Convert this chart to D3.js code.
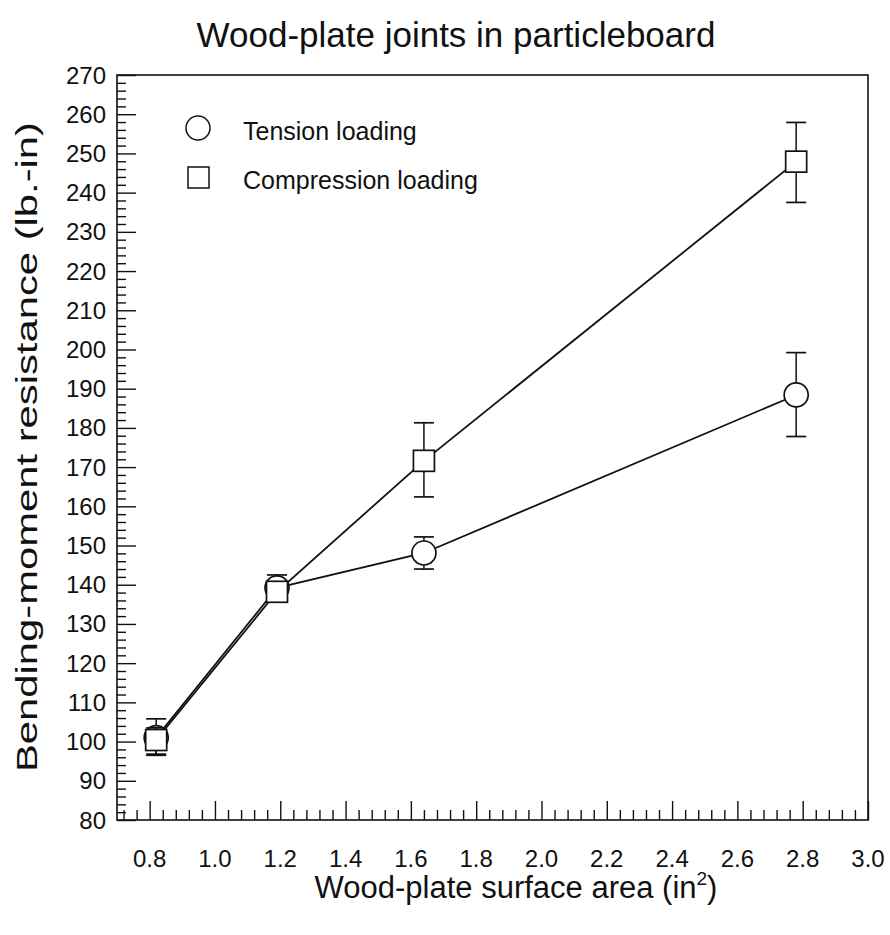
<!DOCTYPE html>
<html>
<head>
<meta charset="utf-8">
<script src="https://cdn.jsdelivr.net/npm/d3@7"></script>
<style>
  body { margin: 0; background: #fff; }
  svg text { font-family: "Liberation Sans", Arial, sans-serif; fill: #111; }
</style>
</head>
<body>
<svg id="chart" width="890" height="935"></svg>
<script>
// data
const area = [0.82, 1.19, 1.64, 2.78];
const tension = [101, 139.2, 148.1, 188.4];
const tensionLo = [96.5, 136, 144.0, 177.8];
const tensionHi = [105.8, 142.5, 152.2, 199.2];
const compression = [100.4, 138.2, 171.6, 247.9];
const compressionLo = [96.8, 136.2, 162.4, 237.5];
const compressionHi = [103.5, 140.2, 181.3, 257.9];
const xTicks = [0.8, 1.0, 1.2, 1.4, 1.6, 1.8, 2.0, 2.2, 2.4, 2.6, 2.8, 3.0];
const yTicks = d3.range(80, 271, 10);

const svg = d3.select('#chart');
const mLeft = 117, mRight = 868, mTop = 75, mBottom = 820;

const x = d3.scaleLinear().domain([0.7, 3.0]).range([mLeft, mRight]);
const y = d3.scaleLinear().domain([80, 270]).range([mBottom, mTop]);

// frame
svg.append('rect')
	.attr('x', mLeft).attr('y', mTop)
	.attr('width', mRight - mLeft).attr('height', mBottom - mTop)
	.attr('fill', 'none').attr('stroke', '#111').attr('stroke-width', 1.6);

// ticks pointing inward
const xMinor = d3.range(0.72, 3.0, 0.04).filter(v => Math.abs(v * 5 - Math.round(v * 5)) > 0.01);
const yMinor = d3.range(82, 270, 2).filter(v => v % 10 !== 0);

const xAxis = svg.append('g').attr('transform', `translate(0,${mBottom})`);
xAxis.append('g')
	.call(d3.axisTop(x).tickValues(xMinor).tickSize(10).tickFormat(''))
	.call(g => g.select('.domain').remove());
xAxis.append('g')
	.call(d3.axisTop(x).tickValues(xTicks).tickSize(19).tickFormat(''))
	.call(g => g.select('.domain').remove());
xAxis.selectAll('line').attr('stroke', '#111').attr('stroke-width', 1.4);
svg.append('g').selectAll('text')
	.data(xTicks).join('text')
	.attr('x', d => x(d)).attr('y', 867)
	.attr('text-anchor', 'middle')
	.attr('font-size', 24)
	.text(d => d3.format('.1f')(d));

const yAxis = svg.append('g').attr('transform', `translate(${mLeft},0)`);
yAxis.append('g')
	.call(d3.axisRight(y).tickValues(yMinor).tickSize(9).tickFormat(''))
	.call(g => g.select('.domain').remove());
yAxis.append('g')
	.call(d3.axisRight(y).tickValues(yTicks).tickSize(19).tickFormat(''))
	.call(g => g.select('.domain').remove());
yAxis.selectAll('line').attr('stroke', '#111').attr('stroke-width', 1.4);
svg.append('g').selectAll('text')
	.data(yTicks).join('text')
	.attr('x', 106).attr('y', d => y(d) + 8.5)
	.attr('text-anchor', 'end')
	.attr('font-size', 24)
	.text(d => d);

// titles
svg.append('text')
	.attr('x', 456).attr('y', 47)
	.attr('text-anchor', 'middle')
	.attr('font-size', 35)
	.text('Wood-plate joints in particleboard');

const xl = svg.append('text')
	.attr('x', 516).attr('y', 898)
	.attr('text-anchor', 'middle')
	.attr('font-size', 31);
xl.append('tspan').text('Wood-plate surface area (in');
xl.append('tspan').attr('font-size', 19).attr('dy', -13).text('2');
xl.append('tspan').attr('dy', 13).text(')');

svg.append('text')
	.attr('transform', 'translate(37,447) rotate(-90)')
	.attr('text-anchor', 'middle')
	.attr('font-size', 30)
	.attr('textLength', 650)
	.attr('lengthAdjust', 'spacingAndGlyphs')
	.text('Bending-moment resistance (lb.-in)');

// series
const line = d3.line().x(d => x(d[0])).y(d => y(d[1]));
const drawSeries = (vals, lo, hi, shape) => {
	const g = svg.append('g');
	const pts = area.map((a, i) => [a, vals[i]]);
	g.append('path').datum(pts)
		.attr('d', line).attr('fill', 'none')
		.attr('stroke', '#111').attr('stroke-width', 1.8);
	const eb = g.selectAll('.eb').data(area).join('g');
	eb.append('line')
		.attr('x1', d => x(d)).attr('x2', d => x(d))
		.attr('y1', (d, i) => y(lo[i])).attr('y2', (d, i) => y(hi[i]))
		.attr('stroke', '#111').attr('stroke-width', 1.5);
	[lo, hi].forEach(arr => {
		eb.append('line')
			.attr('x1', d => x(d) - 10).attr('x2', d => x(d) + 10)
			.attr('y1', (d, i) => y(arr[i])).attr('y2', (d, i) => y(arr[i]))
			.attr('stroke', '#111').attr('stroke-width', 1.7);
	});
	if (shape === 'circle') {
		g.selectAll('circle').data(pts).join('circle')
			.attr('cx', d => x(d[0])).attr('cy', d => y(d[1])).attr('r', 12)
			.attr('fill', '#fff').attr('stroke', '#111').attr('stroke-width', 1.7);
	} else {
		g.selectAll('rect').data(pts).join('rect')
			.attr('x', d => x(d[0]) - 10.5).attr('y', d => y(d[1]) - 10.5)
			.attr('width', 21).attr('height', 21)
			.attr('fill', '#fff').attr('stroke', '#111').attr('stroke-width', 1.7);
	}
};
drawSeries(tension, tensionLo, tensionHi, 'circle');
drawSeries(compression, compressionLo, compressionHi, 'square');

// legend
const lg = svg.append('g');
lg.append('circle').attr('cx', 198).attr('cy', 128).attr('r', 12)
	.attr('fill', '#fff').attr('stroke', '#111').attr('stroke-width', 1.5);
lg.append('rect').attr('x', 188).attr('y', 167).attr('width', 21).attr('height', 21)
	.attr('fill', '#fff').attr('stroke', '#111').attr('stroke-width', 1.5);
lg.append('text').attr('x', 243).attr('y', 140).attr('font-size', 25).text('Tension loading');
lg.append('text').attr('x', 243).attr('y', 189).attr('font-size', 25).text('Compression loading');
</script>
</body>
</html>
